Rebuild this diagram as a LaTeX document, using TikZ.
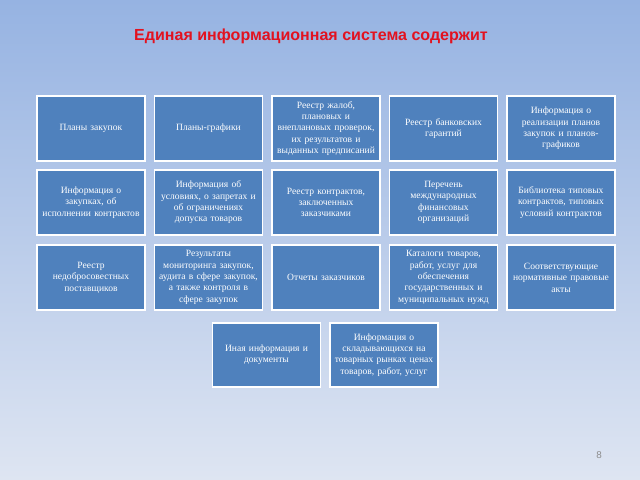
\documentclass[tikz,border=0pt]{standalone}
\usepackage{fontspec}
\setmainfont{Liberation Serif}
\newfontfamily\titlefont{Liberation Sans}
\usetikzlibrary{positioning}
\definecolor{boxblue}{RGB}{79,129,189}
\definecolor{bgtop}{RGB}{150,179,226}
\definecolor{bgbot}{RGB}{222,229,242}
\definecolor{titlered}{RGB}{226,18,32}
\tikzset{
  infobox/.style={draw=white, line width=1.3pt, fill=boxblue, text=white,
    minimum width=2.7cm, minimum height=1.62cm, text width=2.7cm,
    inner xsep=0pt, align=center,
    font=\fontsize{6.8}{8.1}\selectfont},
}

\begin{document}
\begin{tikzpicture}[x=0.025cm,y=-0.025cm]
  %%%%% BACKGROUND %%%%%
  \shade[top color=bgtop, bottom color=bgbot] (0,0) rectangle (640,480);
  \useasboundingbox (0,0) rectangle (640,480);

  \node[text=titlered, font=\titlefont\bfseries\fontsize{11.4}{13}\selectfont] (title) at (311,36) {Единая информационная система содержит};

  %%%%% ROW 1 %%%%%
  \node[infobox] (plans) at (91,128.5) {Планы закупок};
  \node[infobox] (schedules) at (208.5,128.5) {Планы-графики};
  \node[infobox] (complaints) at (326,128.5) {Реестр жалоб,\\ плановых и\\ внеплановых проверок,\\ их результатов и\\ выданных предписаний};
  \node[infobox] (guarantees) at (443.5,128.5) {Реестр банковских\\ гарантий};
  \node[infobox] (realization) at (561,128.5) {Информация о\\ реализации планов\\ закупок и планов-\\ графиков};

  %%%%% ROW 2 %%%%%
  \node[infobox] (execution) at (91,202.5) {Информация о\\ закупках, об\\ исполнении контрактов};
  \node[infobox] (conditions) at (208.5,202.5) {Информация об\\ условиях, о запретах и\\ об ограничениях\\ допуска товаров};
  \node[infobox] (contracts) at (326,202.5) {Реестр контрактов,\\ заключенных\\ заказчиками};
  \node[infobox] (organizations) at (443.5,202.5) {Перечень\\ международных\\ финансовых\\ организаций};
  \node[infobox] (library) at (561,202.5) {Библиотека типовых\\ контрактов, типовых\\ условий контрактов};

  %%%%% ROW 3 %%%%%
  \node[infobox] (suppliers) at (91,277.5) {Реестр\\ недобросовестных\\ поставщиков};
  \node[infobox] (monitoring) at (208.5,277.5) {Результаты\\ мониторинга закупок,\\ аудита в сфере закупок,\\ а также контроля в\\ сфере закупок};
  \node[infobox] (reports) at (326,277.5) {Отчеты заказчиков};
  \node[infobox] (catalogs) at (443.5,277.5) {Каталоги товаров,\\ работ, услуг для\\ обеспечения\\ государственных и\\ муниципальных нужд};
  \node[infobox] (acts) at (561,277.5) {Соответствующие\\ нормативные правовые\\ акты};

  %%%%% ROW 4 %%%%%
  \node[infobox] (other) at (266.5,355) {Иная информация и\\ документы};
  \node[infobox] (prices) at (384,355) {Информация о\\ складывающихся на\\ товарных рынках ценах\\ товаров, работ, услуг};

  \node[text=black!45, font=\titlefont\fontsize{7}{8}\selectfont] (page) at (599,455) {8};
\end{tikzpicture}
\end{document}
